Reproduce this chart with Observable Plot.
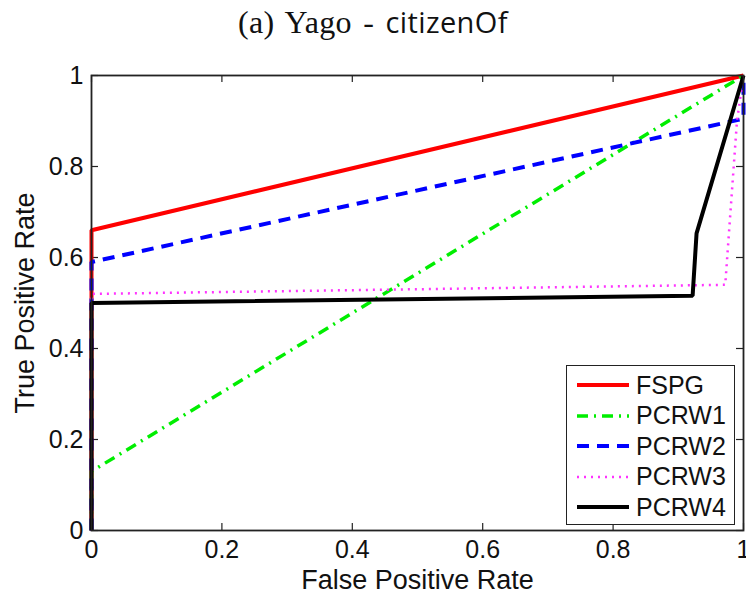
<!DOCTYPE html>
<html>
<head>
<meta charset="utf-8">
<script src="https://cdn.jsdelivr.net/npm/d3@7"></script>
<script src="https://cdn.jsdelivr.net/npm/@observablehq/plot@0.6"></script>
<style>
  html, body { margin: 0; padding: 0; background: #fff; }
  #wrap { position: relative; width: 746px; height: 594px; font-family: "Liberation Sans", Arial, sans-serif; }
  #title { height: 50px; width: 746px; text-align: center; line-height: 44px; color: #111; white-space: nowrap; }
  #title .serif { font-family: "Liberation Serif", "DejaVu Serif", serif; font-size: 32px; letter-spacing: 0.3px; word-spacing: 3px; }
  #title .sans { font-family: "Open Sans", "Liberation Sans", sans-serif; font-size: 29px; letter-spacing: 0.4px; }
  #chart svg { display: block; }
  #legend { position: absolute; left: 566px; top: 365px; width: 167px; height: 158px; border: 1.5px solid #222; background: #fff; }
  .row { position: absolute; left: 0; height: 30px; display: flex; align-items: center; }
  .row svg { margin-left: 10px; }
  .row span { margin-left: 7px; font-size: 25px; color: #111; }
  svg text { fill: #111; }
  g[aria-label="x-axis label"] text, g[aria-label="y-axis label"] text { font-size: 27px; }
</style>
</head>
<body>
<div id="wrap">
  <div id="title"><span class="serif">(a) Yago - </span><span class="sans">citizenOf</span></div>
  <div id="chart"></div>
  <div id="legend"></div>
</div>
<script>
// ---- data ----
const seriesNames = ["FSPG", "PCRW1", "PCRW2", "PCRW3", "PCRW4"];
const fspgX  = [0, 0, 1];
const fspgY  = [0, 0.66, 1];
const pcrw1X = [0, 0, 1];
const pcrw1Y = [0, 0.13, 1];
const pcrw2X = [0, 0, 1, 1];
const pcrw2Y = [0, 0.59, 0.905, 1];
const pcrw3X = [0, 0, 0.972, 0.99, 1];
const pcrw3Y = [0, 0.52, 0.54, 0.9, 1];
const pcrw4X = [0, 0, 0.922, 0.928, 1];
const pcrw4Y = [0, 0.5, 0.516, 0.653, 1];
const xTicks = [0, 0.2, 0.4, 0.6, 0.8, 1];
const xTickLabels = ["0", "0.2", "0.4", "0.6", "0.8", "1"];
const yTicks = [0, 0.2, 0.4, 0.6, 0.8, 1];
const yTickLabels = ["0", "0.2", "0.4", "0.6", "0.8", "1"];

// ---- styles ----
const styles = {
  FSPG:  {stroke: "#ff0000", strokeWidth: 4,   dash: null},
  PCRW1: {stroke: "#00ee00", strokeWidth: 3.5, dash: "11,6,2,6"},
  PCRW2: {stroke: "#0000ff", strokeWidth: 4,   dash: "12,8"},
  PCRW3: {stroke: "#ff33ff", strokeWidth: 2.5, dash: "2,5"},
  PCRW4: {stroke: "#000000", strokeWidth: 4,   dash: null}
};

const xs = [fspgX, pcrw1X, pcrw2X, pcrw3X, pcrw4X];
const ys = [fspgY, pcrw1Y, pcrw2Y, pcrw3Y, pcrw4Y];
const table = seriesNames.map((name, i) => xs[i].map((x, j) => ({series: name, x, y: ys[i][j]})));

const W = 746, H = 544, mT = 25, mB = 64, mL = 91, mR = 3;
const plotW = W - mL - mR, plotH = H - mT - mB;
const tickLen = 7;

const lineMarks = seriesNames.map((name, i) => Plot.line(table[i], {
  x: "x", y: "y",
  stroke: styles[name].stroke,
  strokeWidth: styles[name].strokeWidth,
  strokeDasharray: styles[name].dash,
  strokeLinejoin: "miter",
  strokeLinecap: "butt"
}));

const chart = Plot.plot({
  width: W, height: H,
  marginTop: mT, marginBottom: mB, marginLeft: mL, marginRight: mR,
  style: {fontFamily: "'Liberation Sans', Arial, sans-serif", background: "white", overflow: "visible"},
  x: {domain: [0, 1]},
  y: {domain: [0, 1]},
  marks: [
    Plot.tickX(xTicks, {x: d => d, stroke: "#222", strokeWidth: 1.2, insetTop: plotH - tickLen}),
    Plot.tickX(xTicks, {x: d => d, stroke: "#222", strokeWidth: 1.2, insetBottom: plotH - tickLen}),
    Plot.tickY(yTicks, {y: d => d, stroke: "#222", strokeWidth: 1.2, insetRight: plotW - tickLen}),
    Plot.tickY(yTicks, {y: d => d, stroke: "#222", strokeWidth: 1.2, insetLeft: plotW - tickLen}),
    Plot.axisX(xTicks, {
      tickSize: 0, tickPadding: 10, fontSize: 25,
      tickFormat: (d, i) => xTickLabels[i],
      label: "False Positive Rate", labelAnchor: "center", labelArrow: "none", labelOffset: 58
    }),
    Plot.axisY(yTicks, {
      tickSize: 0, tickPadding: 8, fontSize: 25,
      tickFormat: (d, i) => yTickLabels[i],
      label: "True Positive Rate", labelAnchor: "center", labelArrow: "none", labelOffset: 77
    }),
    ...lineMarks,
    Plot.frame({stroke: "#222", strokeWidth: 1.8})
  ]
});
document.getElementById("chart").appendChild(chart);

// ---- legend ----
const legend = document.getElementById("legend");
seriesNames.forEach((name, i) => {
  const s = styles[name];
  const row = document.createElement("div");
  row.className = "row";
  row.style.top = (4 + i * 30.5) + "px";
  const ns = "http://www.w3.org/2000/svg";
  const svg = document.createElementNS(ns, "svg");
  svg.setAttribute("width", 52); svg.setAttribute("height", 30);
  const ln = document.createElementNS(ns, "line");
  ln.setAttribute("x1", 0); ln.setAttribute("x2", 52);
  ln.setAttribute("y1", 15); ln.setAttribute("y2", 15);
  ln.setAttribute("stroke", s.stroke);
  ln.setAttribute("stroke-width", s.strokeWidth);
  if (s.dash) ln.setAttribute("stroke-dasharray", s.dash);
  svg.appendChild(ln);
  const t = document.createElement("span");
  t.textContent = name;
  row.appendChild(svg); row.appendChild(t);
  legend.appendChild(row);
});
</script>
</body>
</html>
